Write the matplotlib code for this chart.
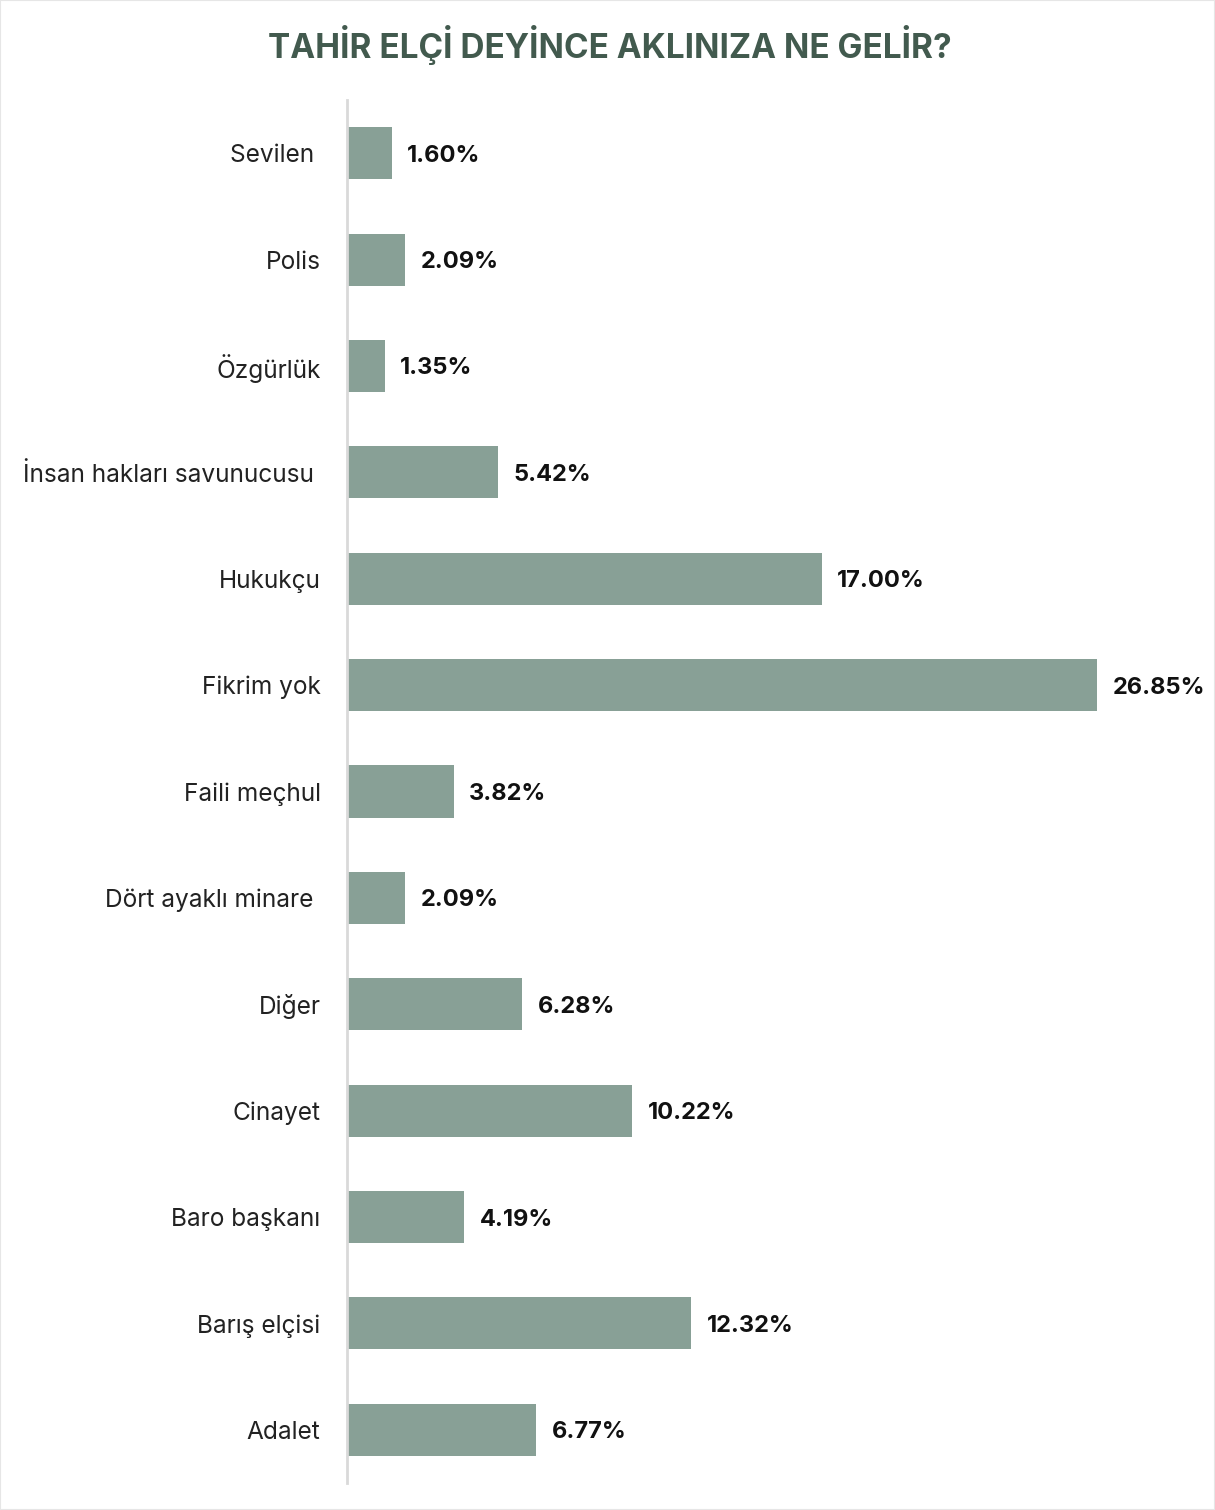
import matplotlib.pyplot as plt
from matplotlib.patches import Rectangle

categories = ['Sevilen ', 'Polis', 'Özgürlük', 'İnsan hakları savunucusu ', 'Hukukçu',
              'Fikrim yok', 'Faili meçhul', 'Dört ayaklı minare ', 'Diğer', 'Cinayet',
              'Baro başkanı', 'Barış elçisi', 'Adalet']
values = [1.60, 2.09, 1.35, 5.42, 17.00, 26.85, 3.82, 2.09, 6.28, 10.22, 4.19, 12.32, 6.77]

plt.rcParams['font.family'] = ['Inter', 'DejaVu Sans']

W, H = 1215, 1510
fig = plt.figure(figsize=(W / 100, H / 100), dpi=100)
fig.patches.append(Rectangle((0, 0), 1, 1, transform=fig.transFigure,
                             fill=False, edgecolor='#e6e6e6', linewidth=1.5))

# axes box in pixels: x 347..1200, y 100..1483
ax = fig.add_axes([347 / W, 1 - 1483 / H, (1200 - 347) / W, (1483 - 100) / H])

y = list(range(len(categories)))
ax.barh(y, values, height=0.49, color='#88a096')

for yi, v in zip(y, values):
    ax.text(v + 0.55, yi, f'{v:.2f}%', va='center_baseline', ha='left',
            fontsize=17, fontweight='bold', color='#111111')

ax.set_xlim(0, 853 / 27.93)
ax.set_ylim(12.5, -0.5)
ax.set_yticks(y)
ax.set_yticklabels(categories, fontsize=17.6, color='#222222')
ax.tick_params(axis='y', length=0, pad=19)
ax.set_xticks([])

for s in ['top', 'right', 'bottom']:
    ax.spines[s].set_visible(False)
ax.spines['left'].set_color('#d9d9d9')
ax.spines['left'].set_linewidth(2)

fig.text(610 / W, 1 - 45 / H, 'TAHİR ELÇİ DEYİNCE AKLINIZA NE GELİR?',
         ha='center', va='center', fontsize=24, fontweight='bold', color='#425a4e')

fig.savefig('out.png', dpi=100)
